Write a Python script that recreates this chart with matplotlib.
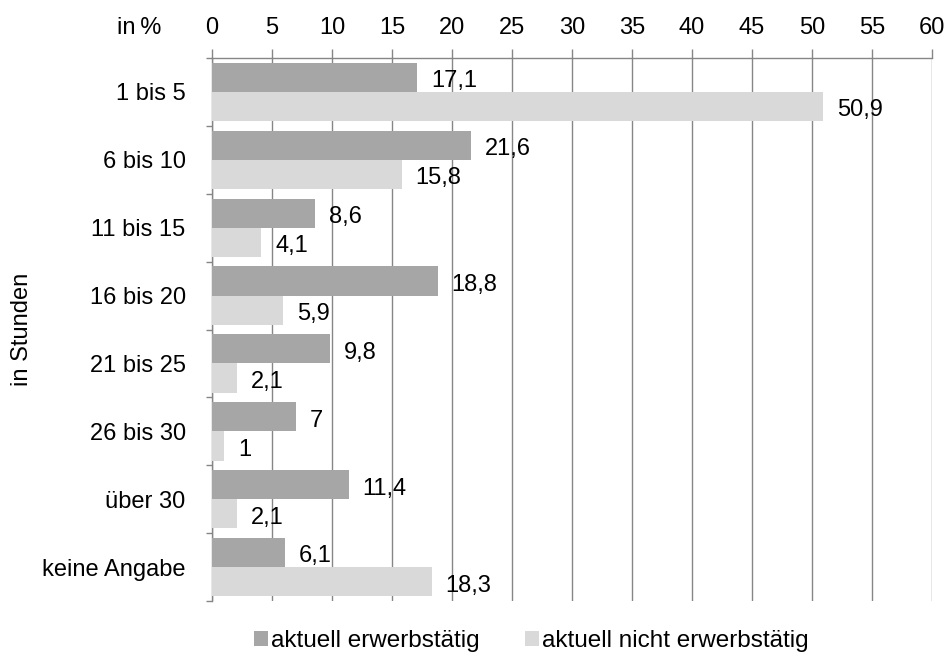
import numpy as np
import matplotlib.pyplot as plt
from matplotlib.patches import Patch

plt.rcParams['font.family'] = ['Liberation Sans', 'DejaVu Sans']

# -----------------------------------------------------------------------------
# Data
# -----------------------------------------------------------------------------
categories = ["1 bis 5", "6 bis 10", "11 bis 15", "16 bis 20",
              "21 bis 25", "26 bis 30", "über 30", "keine Angabe"]
erwerbstaetig = [17.1, 21.6, 8.6, 18.8, 9.8, 7, 11.4, 6.1]
nicht_erwerbstaetig = [50.9, 15.8, 4.1, 5.9, 2.1, 1, 2.1, 18.3]
series_names = ["aktuell erwerbstätig", "aktuell nicht erwerbstätig"]

DARK = "#a6a6a6"
LIGHT = "#d9d9d9"
GRID = "#868686"
FS = 17


def fmt(v):
    s = f"{v:g}"
    return s.replace(".", ",")


fig = plt.figure(figsize=(9.47, 6.57), dpi=100)
ax = fig.add_axes([0.2239, 0.0852, 0.7603, 0.8265])

n = len(categories)
y = np.arange(n)
h = 0.43

b1 = ax.barh(y - h / 2, erwerbstaetig, height=h, color=DARK, zorder=3)
b2 = ax.barh(y + h / 2, nicht_erwerbstaetig, height=h, color=LIGHT, zorder=3)

for bars, vals in ((b1, erwerbstaetig), (b2, nicht_erwerbstaetig)):
    for bar, v in zip(bars, vals):
        ax.annotate(fmt(v), (bar.get_width(), bar.get_y() + bar.get_height() / 2),
                    xytext=(10, -1), textcoords="offset points",
                    ha="left", va="center_baseline", fontsize=FS, color="black",
                    zorder=4)

ax.set_xlim(0, 60)
ax.set_ylim(n - 0.5, -0.5)
ax.set_xticks(np.arange(0, 61, 5))
ax.xaxis.tick_top()
ax.tick_params(axis="x", direction="out", length=6.5, width=1, color=GRID,
               labelsize=FS, pad=7)
ax.grid(axis="x", color=GRID, linewidth=1, zorder=0)

# category labels in between boundary ticks
ax.set_yticks(y)
ax.set_yticklabels(categories, fontsize=FS)
ax.tick_params(axis="y", length=0, pad=19)
ax.set_yticks(np.arange(n + 1) - 0.5, minor=True)
ax.tick_params(axis="y", which="minor", length=4.5, width=1, color=GRID)

for side in ("right", "bottom"):
    ax.spines[side].set_visible(False)
for side in ("left", "top"):
    ax.spines[side].set_color(GRID)
    ax.spines[side].set_linewidth(1)

fig.text(22 / 947, 0.4985, "in Stunden", fontsize=FS, rotation=90,
         ha="center", va="center")
fig.text(139 / 947, 1 - 28 / 657, "in\u2009%", fontsize=FS,
         ha="center", va="center")

handles = [Patch(facecolor=DARK, edgecolor="none"),
           Patch(facecolor=LIGHT, edgecolor="none")]
fig.legend(handles, series_names, loc="center", bbox_to_anchor=(0.561, 0.024),
           ncol=2, frameon=False, fontsize=17.5, handlelength=0.58,
           handleheight=0.58, handletextpad=0.12, columnspacing=1.85,
           borderpad=0)

plt.savefig("out.png", dpi=100)
